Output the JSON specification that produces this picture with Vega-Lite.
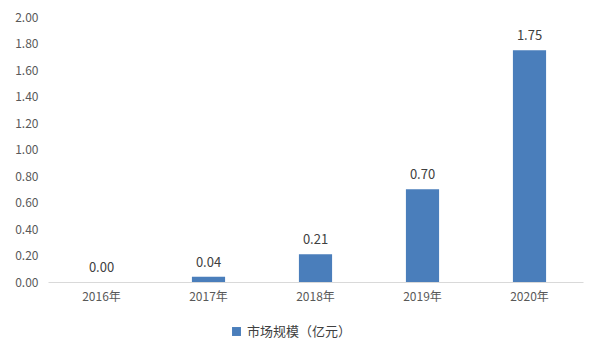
{
  "$schema": "https://vega.github.io/schema/vega-lite/v6.json",
  "width": 535,
  "height": 265,
  "autosize": "none",
  "padding": {"left": 48, "top": 17, "right": 6, "bottom": 77},
  "background": "white",
  "config": {"view": {"stroke": null}, "font": "Noto Sans CJK SC"},
  "data": {"values": [
    {"year": "2016年", "value": 0.00, "series": "市场规模（亿元）"},
    {"year": "2017年", "value": 0.04, "series": "市场规模（亿元）"},
    {"year": "2018年", "value": 0.21, "series": "市场规模（亿元）"},
    {"year": "2019年", "value": 0.70, "series": "市场规模（亿元）"},
    {"year": "2020年", "value": 1.75, "series": "市场规模（亿元）"}
  ]},
  "encoding": {
    "x": {"field": "year", "type": "ordinal", "sort": null,
      "scale": {"paddingInner": 0.69, "paddingOuter": 0.345},
      "axis": {"title": null, "labelAngle": 0, "ticks": false, "domainColor": "#d9d9d9", "labelColor": "#595959", "labelFontSize": 12, "labelPadding": 9, "labelFont": "Noto Sans CJK SC"}},
    "y": {"field": "value", "type": "quantitative",
      "scale": {"domain": [0, 2]},
      "axis": {"title": null, "values": [0,0.2,0.4,0.6,0.8,1.0,1.2,1.4,1.6,1.8,2.0], "format": ".2f", "domain": false, "ticks": false, "grid": false, "labelColor": "#595959", "labelFontSize": 12, "labelPadding": 10, "labelFont": "Noto Sans CJK SC"}}
  },
  "layer": [
    {"mark": {"type": "bar", "color": "#4a7ebb"},
     "encoding": {"color": {"field": "series", "type": "nominal", "scale": {"range": ["#4a7ebb"]},
       "legend": {"title": null, "orient": "none", "legendX": 182, "legendY": 308, "symbolType": "square", "symbolSize": 80, "labelFontSize": 13, "labelColor": "#404040", "labelFont": "Noto Sans CJK SC"}}}},
    {"mark": {"type": "text", "dy": -14, "fontSize": 13, "color": "#404040", "font": "Noto Sans CJK SC"},
     "encoding": {"text": {"field": "value", "type": "quantitative", "format": ".2f"}}}
  ]
}
